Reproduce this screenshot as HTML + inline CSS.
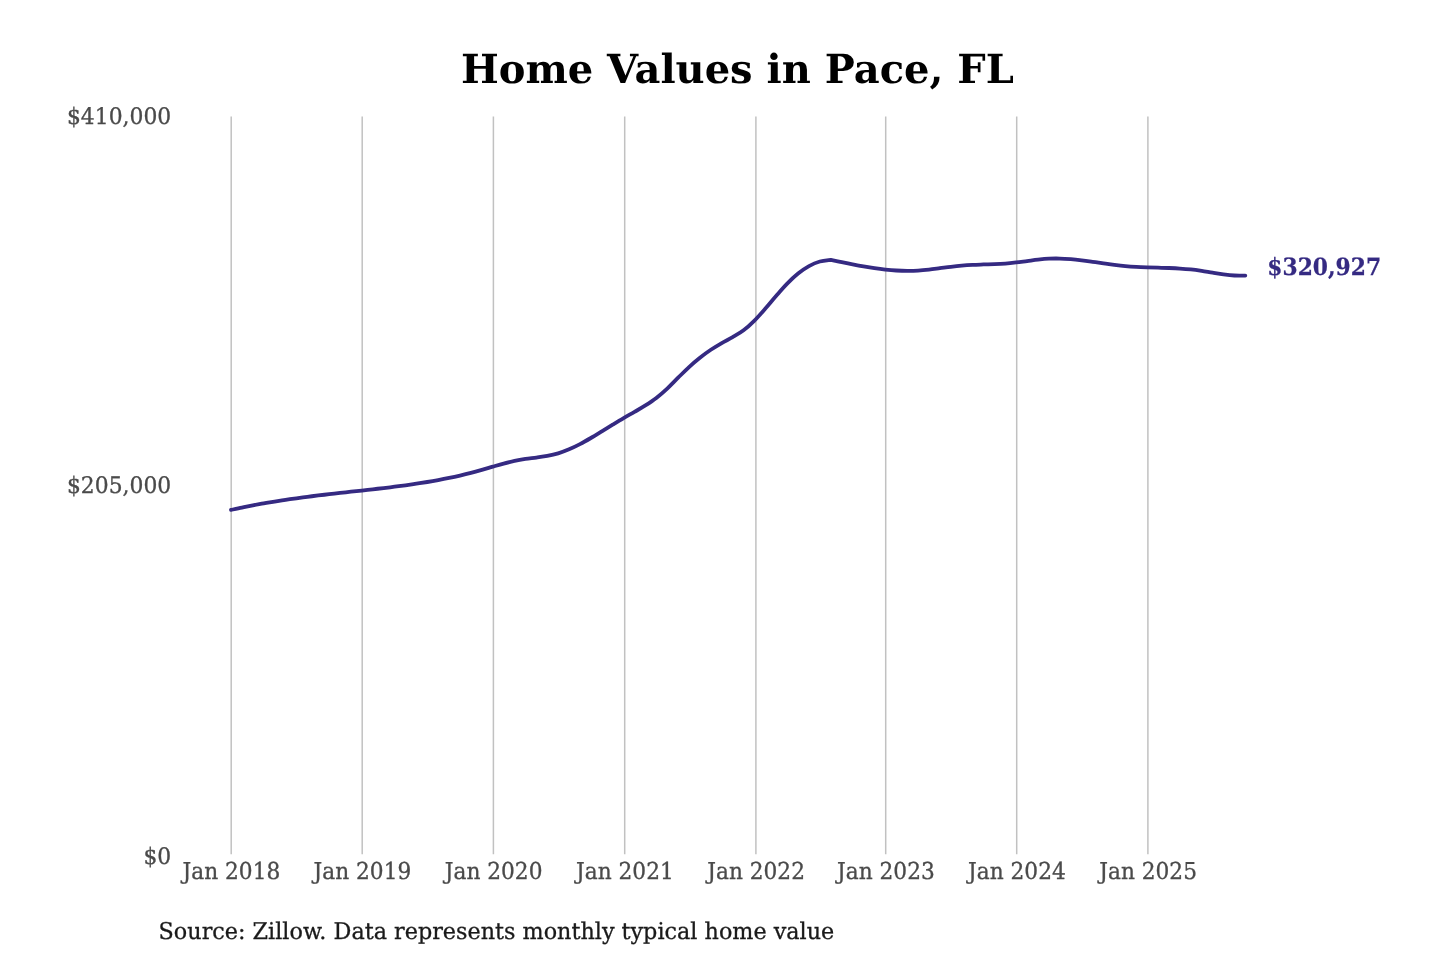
<!DOCTYPE html>
<html lang="en">
<head>
<meta charset="utf-8">
<title>Home Values in Pace, FL</title>
<style>
html,body{margin:0;padding:0;background:#fff;}
body{width:1440px;height:960px;overflow:hidden;font-family:"DejaVu Serif","Liberation Serif",serif;}
svg{display:block;}
svg text{font-family:"DejaVu Serif","Liberation Serif",serif;text-rendering:geometricPrecision;}
.title{font-size:40px;font-weight:bold;fill:#000;text-anchor:middle;}
.grid line{stroke:#c1c1c1;stroke-width:1.5;}
.xl text{font-size:21.7px;fill:#4a4a4a;stroke:#4a4a4a;stroke-width:0.3px;text-anchor:middle;}
.yl text{font-size:21.85px;fill:#4a4a4a;stroke:#4a4a4a;stroke-width:0.3px;text-anchor:end;}
.src{font-size:22.3px;fill:#1a1a1a;stroke:#1a1a1a;stroke-width:0.3px;}
.val{font-size:21.8px;font-weight:bold;fill:#352a82;stroke:#352a82;stroke-width:0.25px;}
.ln{fill:none;stroke:#352a82;stroke-width:3.8;stroke-linejoin:round;stroke-linecap:round;}
</style>
</head>
<body>
<svg width="1440" height="960" viewBox="0 0 1440 960">
<rect width="1440" height="960" fill="#ffffff"/>
<text class="title" x="737.4" y="83.25">Home Values in Pace, FL</text>
<g class="grid">
<line x1="231.2" x2="231.2" y1="116.4" y2="854.3"/>
<line x1="362.2" x2="362.2" y1="116.4" y2="854.3"/>
<line x1="493.4" x2="493.4" y1="116.4" y2="854.3"/>
<line x1="624.7" x2="624.7" y1="116.4" y2="854.3"/>
<line x1="755.9" x2="755.9" y1="116.4" y2="854.3"/>
<line x1="885.7" x2="885.7" y1="116.4" y2="854.3"/>
<line x1="1016.7" x2="1016.7" y1="116.4" y2="854.3"/>
<line x1="1147.9" x2="1147.9" y1="116.4" y2="854.3"/>
</g>
<g class="yl">
<text transform="translate(171.20,124.45) scale(1,1.045)">$410,000</text>
<text transform="translate(171.20,492.90) scale(1,1.045)">$205,000</text>
<text transform="translate(171.20,864.30) scale(1,1.045)">$0</text>
</g>
<g class="xl">
<text transform="translate(231.40,879.30) scale(1,1.07)">Jan 2018</text>
<text transform="translate(362.40,879.30) scale(1,1.07)">Jan 2019</text>
<text transform="translate(493.60,879.30) scale(1,1.07)">Jan 2020</text>
<text transform="translate(624.90,879.30) scale(1,1.07)">Jan 2021</text>
<text transform="translate(756.10,879.30) scale(1,1.07)">Jan 2022</text>
<text transform="translate(885.90,879.30) scale(1,1.07)">Jan 2023</text>
<text transform="translate(1016.90,879.30) scale(1,1.07)">Jan 2024</text>
<text transform="translate(1148.10,879.30) scale(1,1.07)">Jan 2025</text>
</g>
<path class="ln" d="M231.00,509.92 C232.82,509.52 238.27,508.29 241.91,507.53 C245.54,506.77 249.18,506.04 252.81,505.34 C256.45,504.65 260.08,503.98 263.72,503.35 C267.35,502.71 270.99,502.10 274.62,501.52 C278.26,500.93 281.89,500.37 285.53,499.83 C289.16,499.30 292.80,498.78 296.43,498.28 C300.07,497.78 303.70,497.30 307.34,496.83 C310.97,496.36 314.61,495.92 318.24,495.47 C321.88,495.03 325.51,494.60 329.15,494.18 C332.78,493.76 336.42,493.35 340.05,492.94 C343.69,492.53 347.32,492.13 350.96,491.73 C354.60,491.32 358.23,490.93 361.87,490.52 C365.50,490.12 369.14,489.72 372.77,489.31 C376.41,488.90 380.04,488.48 383.68,488.05 C387.31,487.62 390.95,487.18 394.58,486.72 C398.22,486.26 401.85,485.79 405.49,485.29 C409.12,484.79 412.76,484.28 416.39,483.73 C420.03,483.18 423.66,482.61 427.30,482.00 C430.93,481.40 434.57,480.76 438.20,480.09 C441.84,479.41 445.47,478.70 449.11,477.94 C452.74,477.19 456.38,476.39 460.01,475.55 C463.65,474.70 467.28,473.81 470.92,472.86 C474.56,471.92 478.19,470.90 481.83,469.87 C485.46,468.84 489.10,467.73 492.73,466.68 C496.37,465.63 500.00,464.55 503.64,463.59 C507.27,462.63 510.91,461.69 514.54,460.92 C518.18,460.15 521.81,459.52 525.45,458.96 C529.08,458.40 532.72,458.07 536.35,457.57 C539.99,457.07 543.62,456.67 547.26,455.96 C550.89,455.26 554.53,454.46 558.16,453.35 C561.80,452.24 565.43,450.85 569.07,449.30 C572.70,447.75 576.34,445.96 579.97,444.08 C583.61,442.19 587.24,440.11 590.88,438.00 C594.52,435.89 598.15,433.63 601.79,431.40 C605.42,429.18 609.06,426.86 612.69,424.63 C616.33,422.40 619.96,420.17 623.60,418.04 C627.23,415.91 630.87,413.95 634.50,411.85 C638.14,409.75 641.77,407.77 645.41,405.46 C649.04,403.15 652.68,400.80 656.31,397.99 C659.95,395.18 663.58,392.00 667.22,388.61 C670.85,385.23 674.49,381.29 678.12,377.70 C681.76,374.10 685.39,370.37 689.03,367.05 C692.66,363.72 696.30,360.63 699.93,357.75 C703.57,354.88 707.20,352.24 710.84,349.79 C714.48,347.35 718.11,345.17 721.75,343.06 C725.38,340.96 729.02,339.29 732.65,337.16 C736.29,335.03 739.92,333.04 743.56,330.27 C747.19,327.50 750.83,324.16 754.46,320.54 C758.10,316.92 761.73,312.67 765.37,308.54 C769.00,304.40 772.64,299.89 776.27,295.73 C779.91,291.58 783.54,287.31 787.18,283.60 C790.81,279.90 794.45,276.45 798.08,273.53 C801.72,270.62 805.35,268.12 808.99,266.11 C812.62,264.11 816.26,262.56 819.89,261.52 C823.53,260.49 828.98,260.16 830.80,259.89 C832.62,260.25 838.07,261.35 841.71,262.08 C845.34,262.81 848.98,263.57 852.62,264.27 C856.25,264.98 859.89,265.68 863.52,266.32 C867.16,266.95 870.80,267.57 874.43,268.10 C878.07,268.64 881.70,269.13 885.34,269.53 C888.98,269.92 892.61,270.26 896.25,270.49 C899.88,270.72 903.52,270.87 907.16,270.89 C910.79,270.92 914.43,270.84 918.06,270.63 C921.70,270.42 925.34,270.05 928.97,269.65 C932.61,269.25 936.24,268.71 939.88,268.23 C943.51,267.76 947.15,267.23 950.79,266.80 C954.42,266.36 958.06,265.95 961.69,265.62 C965.33,265.29 968.97,265.04 972.60,264.84 C976.24,264.64 979.87,264.56 983.51,264.44 C987.15,264.32 990.78,264.27 994.42,264.12 C998.05,263.97 1001.69,263.80 1005.33,263.52 C1008.96,263.24 1012.60,262.83 1016.23,262.41 C1019.87,262.00 1023.51,261.47 1027.14,261.01 C1030.78,260.55 1034.41,260.02 1038.05,259.63 C1041.69,259.24 1045.32,258.86 1048.96,258.68 C1052.59,258.50 1056.23,258.46 1059.87,258.55 C1063.50,258.63 1067.14,258.90 1070.77,259.19 C1074.41,259.49 1078.05,259.90 1081.68,260.33 C1085.32,260.76 1088.95,261.27 1092.59,261.77 C1096.23,262.26 1099.86,262.81 1103.50,263.32 C1107.13,263.83 1110.77,264.36 1114.41,264.81 C1118.04,265.27 1121.68,265.72 1125.31,266.07 C1128.95,266.42 1132.59,266.70 1136.22,266.93 C1139.86,267.15 1143.49,267.28 1147.13,267.41 C1150.76,267.54 1154.40,267.60 1158.04,267.70 C1161.67,267.80 1165.31,267.87 1168.94,268.01 C1172.58,268.15 1176.22,268.29 1179.85,268.53 C1183.49,268.77 1187.12,269.05 1190.76,269.45 C1194.40,269.86 1198.03,270.39 1201.67,270.94 C1205.30,271.49 1208.94,272.16 1212.58,272.74 C1216.21,273.32 1219.85,273.96 1223.48,274.42 C1227.12,274.88 1230.76,275.32 1234.39,275.51 C1238.03,275.70 1243.48,275.55 1245.30,275.56"/>
<text class="val" transform="translate(1267.30,274.80) scale(1,1.09)">$320,927</text>
<text class="src" transform="translate(158.60,939.20) scale(1,1.035)">Source: Zillow. Data represents monthly typical home value</text>
</svg>
</body>
</html>
